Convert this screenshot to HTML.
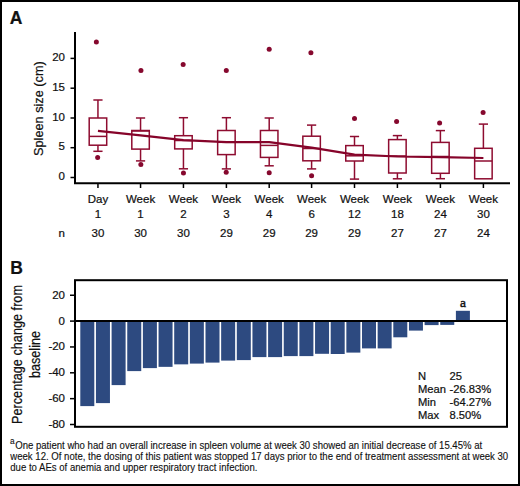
<!DOCTYPE html>
<html><head><meta charset="utf-8"><style>
html,body{margin:0;padding:0;background:#fff;}
body{width:520px;height:486px;overflow:hidden;}
svg{display:block;}
text{font-family:"Liberation Sans",sans-serif;fill:#111;stroke:#111;stroke-width:0.22px;}
.t{font-size:11.5px;}
</style></head><body>
<svg width="520" height="486" viewBox="0 0 520 486">
<rect x="0" y="0" width="520" height="486" fill="#fff"/>
<rect x="1" y="1" width="518" height="484" fill="none" stroke="#000" stroke-width="2"/>

<text x="9.8" y="23.6" style="font-weight:bold;font-size:17.5px">A</text>
<line x1="75" y1="32" x2="75" y2="184" stroke="#000" stroke-width="2"/>
<line x1="74" y1="183.3" x2="510" y2="183.3" stroke="#000" stroke-width="2"/>
<line x1="70.5" y1="58.4" x2="74" y2="58.4" stroke="#000" stroke-width="1.5"/>
<text class="t" x="65" y="61.0" text-anchor="end">20</text>
<line x1="70.5" y1="88.2" x2="74" y2="88.2" stroke="#000" stroke-width="1.5"/>
<text class="t" x="65" y="90.8" text-anchor="end">15</text>
<line x1="70.5" y1="118.0" x2="74" y2="118.0" stroke="#000" stroke-width="1.5"/>
<text class="t" x="65" y="120.6" text-anchor="end">10</text>
<line x1="70.5" y1="147.7" x2="74" y2="147.7" stroke="#000" stroke-width="1.5"/>
<text class="t" x="65" y="150.3" text-anchor="end">5</text>
<line x1="70.5" y1="177.5" x2="74" y2="177.5" stroke="#000" stroke-width="1.5"/>
<text class="t" x="65" y="180.1" text-anchor="end">0</text>
<text transform="translate(43.4,156.0) rotate(-90)" style="font-size:13.6px" textLength="94.8" lengthAdjust="spacingAndGlyphs">Spleen size (cm)</text>
<line x1="97.95" y1="184" x2="97.95" y2="188" stroke="#000" stroke-width="1.5"/>
<text class="t" x="97.95" y="203.2" text-anchor="middle">Day</text>
<text class="t" x="97.95" y="218" text-anchor="middle">1</text>
<text class="t" x="97.95" y="237.2" text-anchor="middle">30</text>
<line x1="140.55" y1="184" x2="140.55" y2="188" stroke="#000" stroke-width="1.5"/>
<text class="t" x="140.55" y="203.2" text-anchor="middle">Week</text>
<text class="t" x="140.55" y="218" text-anchor="middle">1</text>
<text class="t" x="140.55" y="237.2" text-anchor="middle">30</text>
<line x1="183.45" y1="184" x2="183.45" y2="188" stroke="#000" stroke-width="1.5"/>
<text class="t" x="183.45" y="203.2" text-anchor="middle">Week</text>
<text class="t" x="183.45" y="218" text-anchor="middle">2</text>
<text class="t" x="183.45" y="237.2" text-anchor="middle">30</text>
<line x1="226.40" y1="184" x2="226.40" y2="188" stroke="#000" stroke-width="1.5"/>
<text class="t" x="226.40" y="203.2" text-anchor="middle">Week</text>
<text class="t" x="226.40" y="218" text-anchor="middle">3</text>
<text class="t" x="226.40" y="237.2" text-anchor="middle">29</text>
<line x1="269.20" y1="184" x2="269.20" y2="188" stroke="#000" stroke-width="1.5"/>
<text class="t" x="269.20" y="203.2" text-anchor="middle">Week</text>
<text class="t" x="269.20" y="218" text-anchor="middle">4</text>
<text class="t" x="269.20" y="237.2" text-anchor="middle">29</text>
<line x1="311.60" y1="184" x2="311.60" y2="188" stroke="#000" stroke-width="1.5"/>
<text class="t" x="311.60" y="203.2" text-anchor="middle">Week</text>
<text class="t" x="311.60" y="218" text-anchor="middle">6</text>
<text class="t" x="311.60" y="237.2" text-anchor="middle">29</text>
<line x1="354.50" y1="184" x2="354.50" y2="188" stroke="#000" stroke-width="1.5"/>
<text class="t" x="354.50" y="203.2" text-anchor="middle">Week</text>
<text class="t" x="354.50" y="218" text-anchor="middle">12</text>
<text class="t" x="354.50" y="237.2" text-anchor="middle">29</text>
<line x1="397.40" y1="184" x2="397.40" y2="188" stroke="#000" stroke-width="1.5"/>
<text class="t" x="397.40" y="203.2" text-anchor="middle">Week</text>
<text class="t" x="397.40" y="218" text-anchor="middle">18</text>
<text class="t" x="397.40" y="237.2" text-anchor="middle">27</text>
<line x1="440.40" y1="184" x2="440.40" y2="188" stroke="#000" stroke-width="1.5"/>
<text class="t" x="440.40" y="203.2" text-anchor="middle">Week</text>
<text class="t" x="440.40" y="218" text-anchor="middle">24</text>
<text class="t" x="440.40" y="237.2" text-anchor="middle">27</text>
<line x1="483.40" y1="184" x2="483.40" y2="188" stroke="#000" stroke-width="1.5"/>
<text class="t" x="483.40" y="203.2" text-anchor="middle">Week</text>
<text class="t" x="483.40" y="218" text-anchor="middle">30</text>
<text class="t" x="483.40" y="237.2" text-anchor="middle">24</text>
<text class="t" x="65" y="237.2" text-anchor="end">n</text>
<g stroke="#8e0c30" stroke-width="1.5" fill="none">
<line x1="97.95" y1="100" x2="97.95" y2="118"/>
<line x1="93.35" y1="100" x2="102.55" y2="100"/>
<line x1="97.95" y1="145.2" x2="97.95" y2="151.3"/>
<line x1="93.35" y1="151.3" x2="102.55" y2="151.3"/>
<rect x="89.20" y="118" width="17.50" height="27.20"/>
<line x1="89.20" y1="136.4" x2="106.70" y2="136.4"/>
</g>
<circle cx="96.35" cy="41.9" r="2.5" fill="#86082e"/>
<circle cx="97.65" cy="157.5" r="2.5" fill="#86082e"/>
<g stroke="#8e0c30" stroke-width="1.5" fill="none">
<line x1="140.55" y1="118" x2="140.55" y2="130.5"/>
<line x1="135.95" y1="118" x2="145.15" y2="118"/>
<line x1="140.55" y1="149.1" x2="140.55" y2="160.9"/>
<line x1="135.95" y1="160.9" x2="145.15" y2="160.9"/>
<rect x="131.80" y="130.5" width="17.50" height="18.60"/>
<line x1="131.80" y1="131.0" x2="149.30" y2="131.0"/>
</g>
<circle cx="140.95" cy="70.5" r="2.5" fill="#86082e"/>
<circle cx="140.85" cy="164.4" r="2.5" fill="#86082e"/>
<g stroke="#8e0c30" stroke-width="1.5" fill="none">
<line x1="183.45" y1="117.7" x2="183.45" y2="135.7"/>
<line x1="178.85" y1="117.7" x2="188.05" y2="117.7"/>
<line x1="183.45" y1="148.9" x2="183.45" y2="168.8"/>
<line x1="178.85" y1="168.8" x2="188.05" y2="168.8"/>
<rect x="174.70" y="135.7" width="17.50" height="13.20"/>
<line x1="174.70" y1="140.5" x2="192.20" y2="140.5"/>
</g>
<circle cx="183.15" cy="64.5" r="2.5" fill="#86082e"/>
<circle cx="183.45" cy="173" r="2.5" fill="#86082e"/>
<g stroke="#8e0c30" stroke-width="1.5" fill="none">
<line x1="226.40" y1="117.7" x2="226.40" y2="130.5"/>
<line x1="221.80" y1="117.7" x2="231.00" y2="117.7"/>
<line x1="226.40" y1="154.6" x2="226.40" y2="168.9"/>
<line x1="221.80" y1="168.9" x2="231.00" y2="168.9"/>
<rect x="217.65" y="130.5" width="17.50" height="24.10"/>
<line x1="217.65" y1="142.3" x2="235.15" y2="142.3"/>
</g>
<circle cx="226.30" cy="70.5" r="2.5" fill="#86082e"/>
<circle cx="226.20" cy="172.2" r="2.5" fill="#86082e"/>
<g stroke="#8e0c30" stroke-width="1.5" fill="none">
<line x1="269.20" y1="118" x2="269.20" y2="130.5"/>
<line x1="264.60" y1="118" x2="273.80" y2="118"/>
<line x1="269.20" y1="157.4" x2="269.20" y2="165.8"/>
<line x1="264.60" y1="165.8" x2="273.80" y2="165.8"/>
<rect x="260.45" y="130.5" width="17.50" height="26.90"/>
<line x1="260.45" y1="145.4" x2="277.95" y2="145.4"/>
</g>
<circle cx="269.20" cy="49.3" r="2.5" fill="#86082e"/>
<circle cx="269.20" cy="172.8" r="2.5" fill="#86082e"/>
<g stroke="#8e0c30" stroke-width="1.5" fill="none">
<line x1="311.60" y1="125.1" x2="311.60" y2="136.2"/>
<line x1="307.00" y1="125.1" x2="316.20" y2="125.1"/>
<line x1="311.60" y1="160.8" x2="311.60" y2="168.9"/>
<line x1="307.00" y1="168.9" x2="316.20" y2="168.9"/>
<rect x="302.85" y="136.2" width="17.50" height="24.60"/>
<line x1="302.85" y1="148.5" x2="320.35" y2="148.5"/>
</g>
<circle cx="310.90" cy="52.7" r="2.5" fill="#86082e"/>
<circle cx="311.60" cy="175.8" r="2.5" fill="#86082e"/>
<g stroke="#8e0c30" stroke-width="1.5" fill="none">
<line x1="354.50" y1="136.5" x2="354.50" y2="145.6"/>
<line x1="349.90" y1="136.5" x2="359.10" y2="136.5"/>
<line x1="354.50" y1="161" x2="354.50" y2="179.1"/>
<line x1="349.90" y1="179.1" x2="359.10" y2="179.1"/>
<rect x="345.75" y="145.6" width="17.50" height="15.40"/>
<line x1="345.75" y1="155.8" x2="363.25" y2="155.8"/>
</g>
<circle cx="354.50" cy="118.4" r="2.5" fill="#86082e"/>
<g stroke="#8e0c30" stroke-width="1.5" fill="none">
<line x1="397.40" y1="135.6" x2="397.40" y2="139.6"/>
<line x1="392.80" y1="135.6" x2="402.00" y2="135.6"/>
<line x1="397.40" y1="173" x2="397.40" y2="178.8"/>
<line x1="392.80" y1="178.8" x2="402.00" y2="178.8"/>
<rect x="388.65" y="139.6" width="17.50" height="33.40"/>
<line x1="388.65" y1="156" x2="406.15" y2="156"/>
</g>
<circle cx="396.60" cy="121.4" r="2.5" fill="#86082e"/>
<g stroke="#8e0c30" stroke-width="1.5" fill="none">
<line x1="440.40" y1="130.6" x2="440.40" y2="142.4"/>
<line x1="435.80" y1="130.6" x2="445.00" y2="130.6"/>
<line x1="440.40" y1="173.3" x2="440.40" y2="178.7"/>
<line x1="435.80" y1="178.7" x2="445.00" y2="178.7"/>
<rect x="431.65" y="142.4" width="17.50" height="30.90"/>
<line x1="431.65" y1="156.5" x2="449.15" y2="156.5"/>
</g>
<circle cx="439.60" cy="123.1" r="2.5" fill="#86082e"/>
<g stroke="#8e0c30" stroke-width="1.5" fill="none">
<line x1="483.40" y1="124.1" x2="483.40" y2="148.3"/>
<line x1="478.80" y1="124.1" x2="488.00" y2="124.1"/>
<rect x="474.65" y="148.3" width="17.50" height="30.50"/>
<line x1="474.65" y1="161" x2="492.15" y2="161"/>
</g>
<circle cx="483.10" cy="112.4" r="2.5" fill="#86082e"/>
<polyline points="97.95,130.8 140.55,135.4 183.45,140.2 226.40,142.1 269.20,142.1 311.60,147.6 354.50,154.7 397.40,156.5 440.40,157.2 483.40,158.0" fill="none" stroke="#86042a" stroke-width="2.2" stroke-linejoin="round"/>
<text x="10.3" y="274" style="font-weight:bold;font-size:17.5px">B</text>
<rect x="75" y="280.2" width="432" height="146.6" fill="none" stroke="#000" stroke-width="2"/>
<line x1="70" y1="295.25" x2="74" y2="295.25" stroke="#000" stroke-width="1.5"/>
<text class="t" x="65" y="298.6" text-anchor="end">20</text>
<line x1="70" y1="321.1" x2="74" y2="321.1" stroke="#000" stroke-width="1.5"/>
<text class="t" x="65" y="324.5" text-anchor="end">0</text>
<line x1="70" y1="346.95" x2="74" y2="346.95" stroke="#000" stroke-width="1.5"/>
<text class="t" x="65" y="350.3" text-anchor="end">-20</text>
<line x1="70" y1="372.8" x2="74" y2="372.8" stroke="#000" stroke-width="1.5"/>
<text class="t" x="65" y="376.2" text-anchor="end">-40</text>
<line x1="70" y1="398.65" x2="74" y2="398.65" stroke="#000" stroke-width="1.5"/>
<text class="t" x="65" y="402.0" text-anchor="end">-60</text>
<line x1="70" y1="424.5" x2="74" y2="424.5" stroke="#000" stroke-width="1.5"/>
<text class="t" x="65" y="427.9" text-anchor="end">-80</text>
<rect x="80.30" y="322" width="14" height="84.10" fill="#2d4a80"/>
<rect x="95.95" y="322" width="14" height="81.10" fill="#2d4a80"/>
<rect x="111.60" y="322" width="14" height="63.10" fill="#2d4a80"/>
<rect x="127.25" y="322" width="14" height="49.10" fill="#2d4a80"/>
<rect x="142.90" y="322" width="14" height="46.10" fill="#2d4a80"/>
<rect x="158.55" y="322" width="14" height="44.85" fill="#2d4a80"/>
<rect x="174.20" y="322" width="14" height="42.35" fill="#2d4a80"/>
<rect x="189.85" y="322" width="14" height="41.60" fill="#2d4a80"/>
<rect x="205.50" y="322" width="14" height="40.60" fill="#2d4a80"/>
<rect x="221.15" y="322" width="14" height="38.60" fill="#2d4a80"/>
<rect x="236.80" y="322" width="14" height="38.10" fill="#2d4a80"/>
<rect x="252.45" y="322" width="14" height="35.10" fill="#2d4a80"/>
<rect x="268.10" y="322" width="14" height="35.10" fill="#2d4a80"/>
<rect x="283.75" y="322" width="14" height="34.10" fill="#2d4a80"/>
<rect x="299.40" y="322" width="14" height="34.10" fill="#2d4a80"/>
<rect x="315.05" y="322" width="14" height="31.80" fill="#2d4a80"/>
<rect x="330.70" y="322" width="14" height="32.00" fill="#2d4a80"/>
<rect x="346.35" y="322" width="14" height="30.60" fill="#2d4a80"/>
<rect x="362.00" y="322" width="14" height="26.40" fill="#2d4a80"/>
<rect x="377.65" y="322" width="14" height="26.40" fill="#2d4a80"/>
<rect x="393.30" y="322" width="14" height="15.30" fill="#2d4a80"/>
<rect x="408.95" y="322" width="14" height="8.60" fill="#2d4a80"/>
<rect x="424.60" y="322" width="14" height="3.10" fill="#2d4a80"/>
<rect x="440.25" y="322" width="14" height="2.90" fill="#2d4a80"/>
<rect x="455.90" y="310.8" width="14" height="9.5" fill="#2d4a80"/>
<text x="462.90" y="307" text-anchor="middle" style="font-family:'Liberation Serif',serif;font-size:13.5px;stroke-width:0.45px">a</text>
<line x1="75" y1="321" x2="507" y2="321" stroke="#000" stroke-width="2"/>
<text x="418" y="380.4" style="font-size:11.2px">N</text>
<text x="449.5" y="380.4" style="font-size:11.2px">25</text>
<text x="418" y="393.1" style="font-size:11.2px">Mean</text>
<text x="449.5" y="393.1" style="font-size:11.2px">-26.83%</text>
<text x="418" y="405.8" style="font-size:11.2px">Min</text>
<text x="449.5" y="405.8" style="font-size:11.2px">-64.27%</text>
<text x="418" y="418.5" style="font-size:11.2px">Max</text>
<text x="449.5" y="418.5" style="font-size:11.2px">8.50%</text>
<text transform="translate(21.6,424) rotate(-90)" style="font-size:13.8px" textLength="139" lengthAdjust="spacingAndGlyphs">Percentage change from</text>
<text transform="translate(39.6,378) rotate(-90)" style="font-size:13.8px" textLength="47" lengthAdjust="spacingAndGlyphs">baseline</text>
<text x="9.9" y="444.2" style="font-size:8.3px;stroke-width:0.1px">a</text>
<text x="15.2" y="448.6" style="font-size:10px;stroke-width:0.12px" textLength="467.0" lengthAdjust="spacingAndGlyphs">One patient who had an overall increase in spleen volume at week 30 showed an initial decrease of 15.45% at</text>
<text x="10.3" y="459.8" style="font-size:10px;stroke-width:0.12px" textLength="497.9" lengthAdjust="spacingAndGlyphs">week 12. Of note, the dosing of this patient was stopped 17 days prior to the end of treatment assessment at week 30</text>
<text x="10.3" y="471.0" style="font-size:10px;stroke-width:0.12px" textLength="247.1" lengthAdjust="spacingAndGlyphs">due to AEs of anemia and upper respiratory tract infection.</text>
</svg></body></html>
